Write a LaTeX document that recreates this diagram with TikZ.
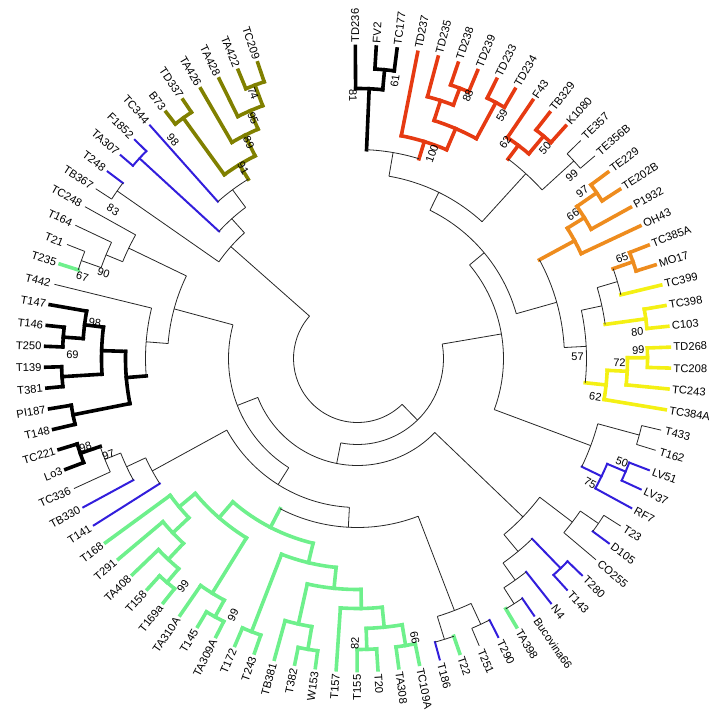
\documentclass[tikz,border=0pt]{standalone}
\usepackage{fontspec}
\setmainfont{Liberation Sans}
\definecolor{cOlive}{HTML}{808000}
\definecolor{cRed}{HTML}{E63A12}
\definecolor{cOrange}{HTML}{EE8C1E}
\definecolor{cYellow}{HTML}{F4F014}
\definecolor{cGreen}{HTML}{6EF08C}
\definecolor{cBlue}{HTML}{321EDC}
\tikzset{
  tn/.style={draw=black!85,line width=0.8pt},
  tk/.style={draw=black,line width=3.6pt,line cap=rect},
  tr/.style={draw=cRed,line width=3.6pt,line cap=rect},
  to/.style={draw=cOrange,line width=3.6pt,line cap=rect},
  ty/.style={draw=cYellow,line width=3.6pt,line cap=rect},
  tg/.style={draw=cGreen,line width=3.6pt,line cap=rect},
  tol/.style={draw=cOlive,line width=3.6pt,line cap=rect},
  tb/.style={draw=cBlue,line width=2pt,line cap=rect},
  leaflab/.style={font=\fontsize{11.2}{12}\selectfont,inner sep=0pt},
  bootlab/.style={font=\fontsize{11}{12}\selectfont,inner sep=0pt},
}
% leaf: name, index, style, text
\newcommand\tip[4]{%
  \pgfmathsetmacro\tipA{90.4-3.84*(#2-1)}%
  \expandafter\xdef\csname ta@#1\endcsname{\tipA}%
  \expandafter\xdef\csname ts@#1\endcsname{#3}%
  \coordinate (#1) at (\tipA:312);
  \ifdim\tipA pt<-90pt
    \node[leaflab,anchor=east,rotate=\tipA+180] (#1-l) at (\tipA:316) {#4};
  \else
    \node[leaflab,anchor=west,rotate=\tipA] (#1-l) at (\tipA:316) {#4};
  \fi}
% inner node: name, first child, second child, radius, style
\newcommand\clade[5]{%
  \pgfmathsetmacro\clA{\csname ta@#2\endcsname}%
  \pgfmathsetmacro\clB{\csname ta@#3\endcsname}%
  \pgfmathsetmacro\clM{(\clA+\clB)/2}%
  \expandafter\xdef\csname ta@#1\endcsname{\clM}%
  \expandafter\xdef\csname ts@#1\endcsname{#5}%
  \coordinate (#1) at (\clM:#4);
  \edef\cladeDo{%
    \noexpand\draw[\csname ts@#2\endcsname] (#2) -- (\clA:#4);
    \noexpand\draw[\csname ts@#3\endcsname] (#3) -- (\clB:#4);
    \noexpand\draw[#5] (\clA:#4) arc[start angle=\clA,end angle=\clB,radius=#4];}%
  \cladeDo}
% bootstrap value: name, angle, radius, text
\newcommand\boot[4]{%
  \pgfmathsetmacro\bootA{#2}%
  \def\bootR{0}%
  \ifdim\bootA pt>90.5pt \def\bootR{180}\fi
  \ifdim\bootA pt<-90pt \def\bootR{180}\fi
  \node[bootlab,rotate=\bootA+\bootR] (#1) at (\bootA:#3) {#4};}

\begin{document}
\begin{tikzpicture}[x=1pt,y=1pt]
  \useasboundingbox (-357.5,-364.5) rectangle (362.5,358.5);

  % leaves, clockwise from the top
  \tip{TD236}{1}{tk}{TD236}
  \tip{FV2}{2}{tk}{FV2}
  \tip{TC177}{3}{tk}{TC177}
  \tip{TD237}{4}{tr}{TD237}
  \tip{TD235}{5}{tr}{TD235}
  \tip{TD238}{6}{tr}{TD238}
  \tip{TD239}{7}{tr}{TD239}
  \tip{TD233}{8}{tr}{TD233}
  \tip{TD234}{9}{tr}{TD234}
  \tip{F43}{10}{tr}{F43}
  \tip{TB329}{11}{tr}{TB329}
  \tip{K1080}{12}{tr}{K1080}
  \tip{TE357}{13}{tn}{TE357}
  \tip{TE356B}{14}{tn}{TE356B}
  \tip{TE229}{15}{to}{TE229}
  \tip{TE202B}{16}{to}{TE202B}
  \tip{P1932}{17}{to}{P1932}
  \tip{OH43}{18}{to}{OH43}
  \tip{TC385A}{19}{to}{TC385A}
  \tip{MO17}{20}{to}{MO17}
  \tip{TC399}{21}{ty}{TC399}
  \tip{TC398}{22}{ty}{TC398}
  \tip{C103}{23}{ty}{C103}
  \tip{TD268}{24}{ty}{TD268}
  \tip{TC208}{25}{ty}{TC208}
  \tip{TC243}{26}{ty}{TC243}
  \tip{TC384A}{27}{ty}{TC384A}
  \tip{T433}{28}{tn}{T433}
  \tip{T162}{29}{tn}{T162}
  \tip{LV51}{30}{tb}{LV51}
  \tip{LV37}{31}{tb}{LV37}
  \tip{RF7}{32}{tb}{RF7}
  \tip{T23}{33}{tn}{T23}
  \tip{D105}{34}{tb}{D105}
  \tip{CO255}{35}{tn}{CO255}
  \tip{T280}{36}{tb}{T280}
  \tip{T143}{37}{tb}{T143}
  \tip{N4}{38}{tb}{N4}
  \tip{Bucovina66}{39}{tb}{Bucovina66}
  \tip{TA398}{40}{tg}{TA398}
  \tip{T290}{41}{tb}{T290}
  \tip{T251}{42}{tn}{T251}
  \tip{T22}{43}{tg}{T22}
  \tip{T186}{44}{tb}{T186}
  \tip{TC109A}{45}{tg}{TC109A}
  \tip{TA308}{46}{tg}{TA308}
  \tip{T20}{47}{tg}{T20}
  \tip{T155}{48}{tg}{T155}
  \tip{T157}{49}{tg}{T157}
  \tip{W153}{50}{tg}{W153}
  \tip{T382}{51}{tg}{T382}
  \tip{TB381}{52}{tg}{TB381}
  \tip{T243}{53}{tg}{T243}
  \tip{T172}{54}{tg}{T172}
  \tip{TA309A}{55}{tg}{TA309A}
  \tip{T145}{56}{tg}{T145}
  \tip{TA310A}{57}{tg}{TA310A}
  \tip{T169a}{58}{tg}{T169a}
  \tip{T158}{59}{tg}{T158}
  \tip{TA408}{60}{tg}{TA408}
  \tip{T291}{61}{tg}{T291}
  \tip{T168}{62}{tg}{T168}
  \tip{T141}{63}{tb}{T141}
  \tip{TB330}{64}{tb}{TB330}
  \tip{TC336}{65}{tn}{TC336}
  \tip{Lo3}{66}{tk}{Lo3}
  \tip{TC221}{67}{tk}{TC221}
  \tip{T148}{68}{tk}{T148}
  \tip{PI187}{69}{tk}{PI187}
  \tip{T381}{70}{tk}{T381}
  \tip{T139}{71}{tk}{T139}
  \tip{T250}{72}{tk}{T250}
  \tip{T146}{73}{tk}{T146}
  \tip{T147}{74}{tk}{T147}
  \tip{T442}{75}{tn}{T442}
  \tip{T235}{76}{tg}{T235}
  \tip{T21}{77}{tn}{T21}
  \tip{T164}{78}{tn}{T164}
  \tip{TC248}{79}{tn}{TC248}
  \tip{TB367}{80}{tn}{TB367}
  \tip{T248}{81}{tb}{T248}
  \tip{TA307}{82}{tb}{TA307}
  \tip{F1852}{83}{tb}{F1852}
  \tip{TC344}{84}{tb}{TC344}
  \tip{B73}{85}{tol}{B73}
  \tip{TD337}{86}{tol}{TD337}
  \tip{TA426}{87}{tol}{TA426}
  \tip{TA428}{88}{tol}{TA428}
  \tip{TA422}{89}{tol}{TA422}
  \tip{TC209}{90}{tol}{TC209}

  % top: black and red groups
  \clade{n61}{FV2}{TC177}{290}{tk}
  \clade{n81}{TD236}{n61}{270}{tk}
  \clade{n88}{TD238}{TD239}{289}{tr}
  \clade{nTD235}{TD235}{n88}{271}{tr}
  \clade{n59}{TD233}{TD234}{291}{tr}
  \clade{nTDb}{nTD235}{n59}{250}{tr}
  \clade{n100}{TD237}{nTDb}{227}{tr}
  \clade{nX}{n81}{n100}{209}{tn}
  \clade{n50r}{TB329}{K1080}{290}{tr}
  \clade{n62r}{F43}{n50r}{267}{tr}
  \clade{n99te}{TE357}{TE356B}{293}{tn}
  \clade{nY}{n62r}{n99te}{250}{tn}
  \clade{nZ}{nX}{nY}{185}{tn}
  % right: orange and yellow groups
  \clade{n97o}{TE229}{TE202B}{291}{to}
  \clade{n66o}{n97o}{P1932}{267}{to}
  \clade{nOr}{n66o}{OH43}{247}{to}
  \clade{n65}{TC385A}{MO17}{292}{to}
  \clade{nS}{n65}{TC399}{271}{tn}
  \clade{n80}{TC398}{C103}{291}{ty}
  \clade{nR}{nS}{n80}{250}{tn}
  \clade{n99y}{TD268}{TC208}{290}{ty}
  \clade{n72y}{n99y}{TC243}{270}{ty}
  \clade{n62y}{n72y}{TC384A}{250}{ty}
  \clade{n57}{nR}{n62y}{229}{tn}
  \clade{nV}{nOr}{n57}{207}{tn}
  \clade{nW}{nZ}{nV}{165}{tn}
  \clade{n2829}{T433}{T162}{292}{tn}
  \clade{n50b}{LV51}{LV37}{291}{tb}
  \clade{n75}{n50b}{RF7}{271}{tb}
  \clade{nN6}{n2829}{n75}{249}{tn}
  \clade{nN4}{nW}{nN6}{146}{tn}
  % lower right
  \clade{n3334}{T23}{D105}{292}{tn}
  \clade{nTDC}{n3334}{CO255}{270}{tn}
  \clade{n3637}{T280}{T143}{292}{tb}
  \clade{n3940}{Bucovina66}{TA398}{291}{tn}
  \clade{nN4x}{N4}{n3940}{272}{tn}
  \clade{nN10}{n3637}{nN4x}{251}{tn}
  \clade{nN7}{nTDC}{nN10}{229}{tn}
  \clade{n4142}{T290}{T251}{293}{tn}
  \clade{n4344}{T22}{T186}{294}{tn}
  \clade{n4144}{n4142}{n4344}{270}{tn}
  % green group
  \clade{n66g}{TC109A}{TA308}{291}{tg}
  \clade{n82}{T20}{T155}{291}{tg}
  \clade{nGa}{n66g}{n82}{270}{tg}
  \clade{nGb}{nGa}{T157}{250}{tg}
  \clade{nGc}{W153}{T382}{295}{tg}
  \clade{nGd}{nGc}{TB381}{272}{tg}
  \clade{nGe}{nGb}{nGd}{231}{tg}
  \clade{nGf}{T243}{T172}{293}{tg}
  \clade{nGg}{nGe}{nGf}{210}{tg}
  \clade{n99b}{TA309A}{T145}{295}{tg}
  \clade{nGh}{n99b}{TA310A}{276}{tg}
  \clade{n99a}{T169a}{T158}{294}{tg}
  \clade{nGi}{n99a}{TA408}{276}{tg}
  \clade{nGj}{nGi}{T291}{254}{tg}
  \clade{nGk}{nGj}{T168}{232}{tg}
  \clade{nGl}{nGh}{nGk}{211}{tg}
  \clade{nG}{nGg}{nGl}{190}{tg}
  \clade{nN11}{n4144}{nG}{169}{tn}
  % left
  \clade{n98b}{Lo3}{TC221}{293}{tk}
  \clade{n97}{TC336}{n98b}{272}{tn}
  \clade{nTB}{TB330}{n97}{255}{tn}
  \clade{nLL}{T141}{nTB}{234}{tn}
  \clade{nN12}{nN11}{nLL}{149}{tn}
  \clade{nK1}{T148}{PI187}{290}{tk}
  \clade{nK2}{T381}{T139}{296}{tk}
  \clade{n69}{T250}{T146}{295}{tk}
  \clade{n98k}{n69}{T147}{275}{tk}
  \clade{nK3}{nK2}{n98k}{256}{tk}
  \clade{nK}{nK1}{nK3}{232}{tk}
  \clade{nKT}{nK}{T442}{212}{tn}
  \clade{n67}{T235}{T21}{293}{tn}
  \clade{n90}{n67}{T164}{272}{tn}
  \clade{nTC}{n90}{TC248}{254}{tn}
  \clade{nL1}{nKT}{nTC}{190}{tn}
  \clade{nN8}{nN12}{nL1}{129}{tn}
  \clade{nN3}{nN7}{nN8}{107}{tn}
  \clade{nN2}{nN4}{nN3}{86}{tn}
  % upper left: olive group
  \clade{n83}{TB367}{T248}{293}{tn}
  \clade{nFT}{TA307}{F1852}{296}{tb}
  \clade{n98o}{B73}{TD337}{297}{tol}
  \clade{n74}{TA422}{TC209}{292}{tol}
  \clade{n95}{TA428}{n74}{270}{tol}
  \clade{n89}{TA426}{n95}{250}{tol}
  \clade{n91}{n98o}{n89}{227}{tol}
  \clade{nOT}{TC344}{n91}{210}{tn}
  \clade{nG1a}{nFT}{nOT}{188}{tn}
  \clade{nG1}{n83}{nG1a}{169}{tn}
  \clade{nRoot}{nN2}{nG1}{64}{tn}

  % bootstrap values
  \boot{b81}{91}{263}{81}
  \boot{b61}{82.3}{280}{61}
  \boot{b100}{70}{218}{100}
  \boot{b88}{67.2}{285}{88}
  \boot{b59}{59.3}{283}{59}
  \boot{b62r}{55.7}{262}{62}
  \boot{b50r}{48.3}{282}{50}
  \boot{b99te}{40.5}{282}{99}
  \boot{b97o}{36.6}{280}{97}
  \boot{b66o}{33.7}{259}{66}
  \boot{b65}{20.8}{283}{65}
  \boot{b80}{5.4}{281}{80}
  \boot{b57}{0.4}{220}{57}
  \boot{b99y}{1.7}{281}{99}
  \boot{b72}{-1}{262}{72}
  \boot{b62y}{-9.2}{241}{62}
  \boot{b50b}{-21.4}{284}{50}
  \boot{b75}{-28.2}{264}{75}
  \boot{b66g}{-78.4}{285}{66}
  \boot{b82}{-90.5}{285}{82}
  \boot{b99b}{-115.9}{285}{99}
  \boot{b99a}{-127.4}{287}{99}
  \boot{b97}{-158.9}{267}{97}
  \boot{b98b}{-162}{286}{98}
  \boot{b69}{179.3}{285}{69}
  \boot{b98k}{172.3}{265}{98}
  \boot{b67}{163.5}{287}{67}
  \boot{b90}{161.4}{268}{90}
  \boot{b83}{148.7}{286}{83}
  \boot{b98o}{130.2}{286}{98}
  \boot{b91}{121}{222}{91}
  \boot{b89}{116.7}{242}{89}
  \boot{b95}{113.5}{262}{95}
  \boot{b74}{111.5}{285}{74}
\end{tikzpicture}
\end{document}
